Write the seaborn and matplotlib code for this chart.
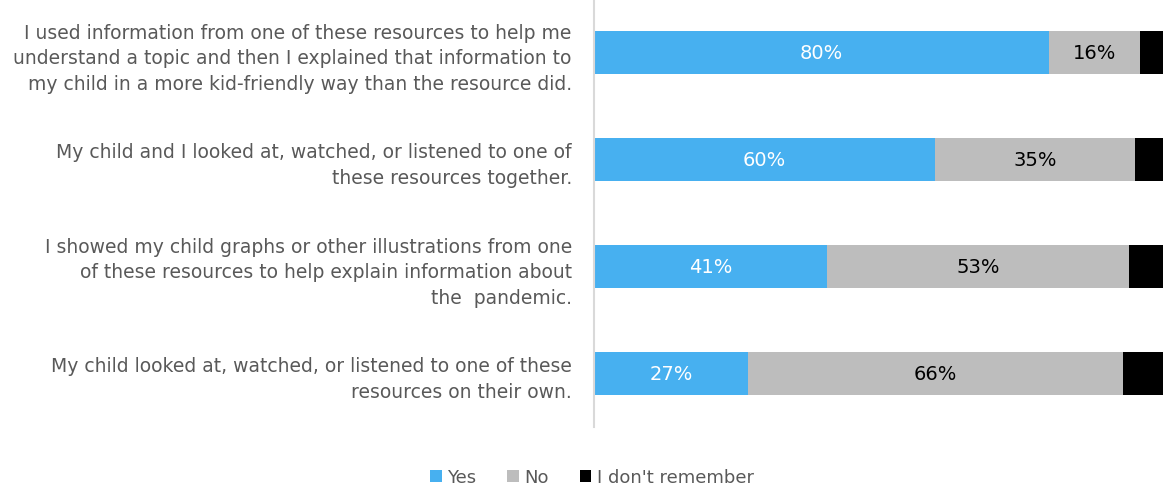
import matplotlib
matplotlib.use("Agg")
import matplotlib.pyplot as plt
import seaborn as sns
import pandas as pd
from matplotlib.patches import Patch

# Survey statements (y-axis labels, wrapped as in the source chart)
statements = [
    "I used information from one of these resources to help me\n"
    "understand a topic and then I explained that information to\n"
    "my child in a more kid-friendly way than the resource did.",
    "My child and I looked at, watched, or listened to one of\n"
    "these resources together.",
    "I showed my child graphs or other illustrations from one\n"
    "of these resources to help explain information about\n"
    "the  pandemic.",
    "My child looked at, watched, or listened to one of these\n"
    "resources on their own.",
]
yes_pct = [80, 60, 41, 27]
no_pct = [16, 35, 53, 66]
dont_remember_pct = [4, 5, 6, 7]

series_names = ["Yes", "No", "I don't remember"]
colors = {"Yes": "#47B0F0", "No": "#BDBDBD", "I don't remember": "#000000"}
text_gray = "#595959"

df = pd.DataFrame({
    "statement": statements,
    "Yes": yes_pct,
    "No": no_pct,
    "I don't remember": dont_remember_pct,
})
# cumulative right edges, used to overlay bars from the longest to the shortest
df["cum_yes"] = df["Yes"]
df["cum_no"] = df["Yes"] + df["No"]
df["cum_all"] = df["cum_no"] + df["I don't remember"]

sns.set_style("white")
plt.rcParams["font.family"] = ["DejaVu Sans"]

fig = plt.figure(figsize=(11.63, 4.89), dpi=100)
ax = fig.add_axes([594 / 1163, 61 / 489, 569 / 1163, 428 / 489])

for col, name in [("cum_all", "I don't remember"), ("cum_no", "No"), ("cum_yes", "Yes")]:
    sns.barplot(data=df, x=col, y="statement", color=colors[name], saturation=1,
                width=0.4, orient="h", ax=ax, linewidth=0)

# percentage labels centred in each segment
for i, row in df.iterrows():
    ax.text(row["Yes"] / 2, i, f"{row['Yes']}%", ha="center", va="center",
            color="white", fontsize=14)
    ax.text(row["Yes"] + row["No"] / 2, i, f"{row['No']}%", ha="center", va="center",
            color="black", fontsize=14)

ax.set_xlim(0, 100)
ax.set_ylim(3.5, -0.5)
ax.set_xlabel("")
ax.set_ylabel("")
ax.set_xticks([])
ax.tick_params(axis="y", length=0, pad=16)
for lbl in ax.get_yticklabels():
    lbl.set_fontsize(13.5)
    lbl.set_color(text_gray)
    lbl.set_horizontalalignment("right")
    lbl.set_linespacing(1.45)

for side in ["top", "right", "bottom"]:
    ax.spines[side].set_visible(False)
ax.spines["left"].set_color("#D9D9D9")
ax.spines["left"].set_linewidth(1.5)

handles = [Patch(facecolor=colors[n], edgecolor="none") for n in series_names]
fig.legend(handles, series_names, loc="center", bbox_to_anchor=(0.509, 0.022),
           ncol=3, frameon=False, fontsize=13, handlelength=0.65, handleheight=0.65,
           handletextpad=0.3, columnspacing=1.7, labelcolor=text_gray)

fig.savefig("out.png", dpi=100)
